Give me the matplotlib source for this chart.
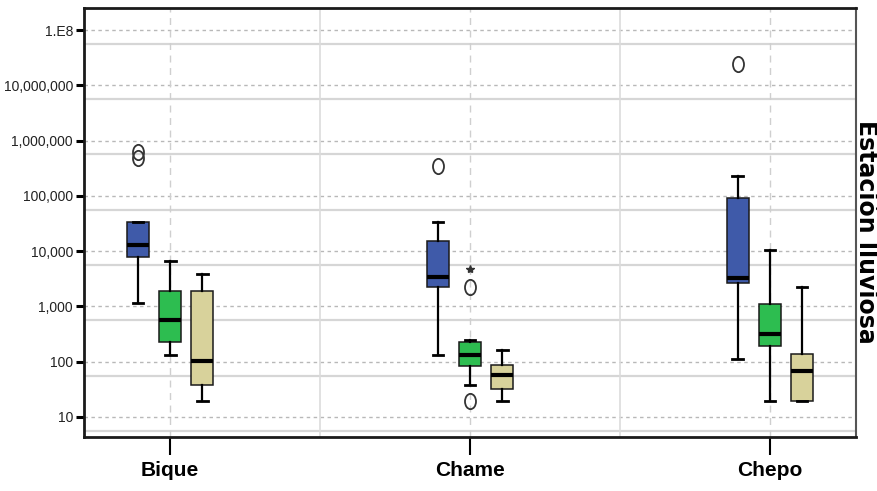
import matplotlib
matplotlib.use("Agg")
import matplotlib.pyplot as plt
import numpy as np
from matplotlib.path import Path
from matplotlib.ticker import FixedLocator, NullLocator

# Data (log scale values)
stations = ["Bique", "Chame", "Chepo"]
groups = ["g1", "g2", "g3"]
group_colors = ["#3f5aa9", "#2dbd50", "#d8d29b"]

# stats per station, per group: whisker low, Q1, median, Q3, whisker high
bique_stats = [
    [1150, 7840, 12900, 33700, 33700],
    [132, 228, 569, 1930, 6730],
    [19.5, 38, 103, 1930, 3860],
]
chame_stats = [
    [132, 2220, 3370, 15500, 34100],
    [38, 84, 132, 230, 247],
    [19.7, 32, 57.5, 87, 163],
]
chepo_stats = [
    [112, 2620, 3230, 90300, 232000],
    [19.7, 193, 318, 1107, 10500],
    [19.7, 19.7, 67, 138, 2270],
]
# outliers (circles) and extremes (stars)
bique_out = [[621000, 484000], [], []]
chame_out = [[347000], [2270, 19.7], []]
chepo_out = [[24000000], [], []]
bique_ext = [[], [], []]
chame_ext = [[], [4750], []]
chepo_ext = [[], [], []]

all_stats = [bique_stats, chame_stats, chepo_stats]
all_out = [bique_out, chame_out, chepo_out]
all_ext = [bique_ext, chame_ext, chepo_ext]

ytick_vals = [10, 100, 1000, 10000, 100000, 1000000, 10000000, 100000000]
ytick_labels = ["10", "100", "1,000", "10,000", "100,000", "1,000,000",
                "10,000,000", "1.E8"]

NARROW = ["Liberation Sans Narrow", "Liberation Sans", "DejaVu Sans"]

fig = plt.figure(figsize=(8.78, 4.91), dpi=100)
ax = fig.add_axes([0.0957, 0.110, 0.975 - 0.0957, 0.9837 - 0.110])
ax.set_yscale("log")

# grid lines
for k in range(0, 9):
    ax.axhline(10 ** k, color="#b8b8b8", lw=1.0, ls=(0, (2.5, 2.5)), zorder=0)
    ax.axhline(10 ** (k - 0.25), color="#d6d6d6", lw=1.6, zorder=0)
for i in range(len(stations)):
    ax.axvline(i, color="#cfcfcf", lw=1.0, ls=(0, (5, 4)), zorder=0)
for i in range(len(stations) - 1):
    ax.axvline(i + 0.5, color="#dcdcdc", lw=1.2, zorder=0)

# ellipse marker (reference is stretched vertically)
uc = Path.unit_circle()
ell = Path(uc.vertices * np.array([0.72, 1.0]), uc.codes)

offsets = [-0.107, 0.0, 0.107]
width = 0.072
for si, st in enumerate(stations):
    for gi in range(len(groups)):
        lo, q1, med, q3, hi = all_stats[si][gi]
        pos = si + offsets[gi]
        d = dict(whislo=lo, q1=q1, med=med, q3=q3, whishi=hi,
                 fliers=np.array([]), label=st)
        ax.bxp([d], positions=[pos], widths=width, capwidths=width * 0.5,
               patch_artist=True, showfliers=False,
               boxprops=dict(facecolor=group_colors[gi], edgecolor="#1a1a1a",
                             linewidth=1.1),
               medianprops=dict(color="black", linewidth=3.0),
               whiskerprops=dict(color="black", linewidth=1.6),
               capprops=dict(color="black", linewidth=2.0),
               manage_ticks=False, zorder=3)
        outs = all_out[si][gi]
        if outs:
            ax.plot([pos] * len(outs), outs, ls="none", marker=ell,
                    markersize=11, markerfacecolor="none",
                    markeredgecolor="#333333", markeredgewidth=1.3, zorder=4)
        exts = all_ext[si][gi]
        if exts:
            ax.plot([pos] * len(exts), exts, ls="none", marker="*",
                    markersize=6, color="#333333", zorder=4)

ax.set_xlim(-0.287, 2.287)
ax.set_ylim(10 ** 0.638, 10 ** 8.398)

ax.yaxis.set_major_locator(FixedLocator(ytick_vals))
ax.yaxis.set_minor_locator(NullLocator())
ax.set_yticklabels(ytick_labels, fontfamily=NARROW, fontsize=10, color="#222222")
ax.set_xticks(range(len(stations)))
ax.set_xticklabels(stations, fontfamily=NARROW, fontsize=15, fontweight="bold")
ax.tick_params(axis="y", length=6, width=2.2, pad=2)
ax.tick_params(axis="x", length=13, width=1.5, pad=4)

for side in ["left", "bottom", "top"]:
    ax.spines[side].set_linewidth(2.0)
    ax.spines[side].set_color("#1a1a1a")
ax.spines["right"].set_linewidth(1.5)
ax.spines["right"].set_color("#555555")

fig.text(0.986, 0.528, "Estación lluviosa", rotation=-90, ha="center",
         va="center", fontsize=17, fontweight="bold", family="DejaVu Sans")

fig.savefig("out.png", dpi=100)
